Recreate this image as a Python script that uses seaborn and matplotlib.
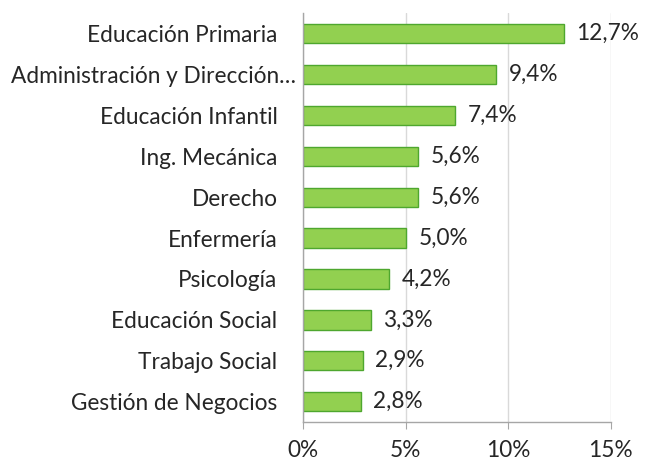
import seaborn as sns
import matplotlib.pyplot as plt
import pandas as pd
from matplotlib.ticker import FuncFormatter
from matplotlib.transforms import ScaledTranslation

careers = ['Educación Primaria', 'Administración y Dirección…',
           'Educación Infantil', 'Ing. Mecánica', 'Derecho', 'Enfermería',
           'Psicología', 'Educación Social', 'Trabajo Social',
           'Gestión de Negocios']
shares = [12.7, 9.4, 7.4, 5.6, 5.6, 5.0, 4.2, 3.3, 2.9, 2.8]
x_ticks = [0, 5, 10, 15]

sns.set_style('white')
plt.rcParams['font.family'] = ['Lato', 'DejaVu Sans']
fs = 16.3

df = pd.DataFrame({'career': careers, 'share': shares})

fig = plt.figure(figsize=(6.56, 4.66), dpi=100)
ax = fig.add_axes([0.462, 0.094, 0.469, 0.878])
sns.barplot(data=df, y='career', x='share', color='#92D050',
            edgecolor='#4EA72E', linewidth=1, width=0.47,
            saturation=1, ax=ax)

# Value labels in Spanish decimal format
for i, v in enumerate(shares):
    ax.text(v + 0.62, i, f'{v:.1f}%'.replace('.', ','), va='center',
            ha='left', fontsize=fs, color='#262626')

ax.set_xlim(0, 15)
ax.set_xticks(x_ticks)
ax.xaxis.set_major_formatter(FuncFormatter(lambda x, p: f'{x:.0f}%'))
ax.grid(axis='x', color='#D9D9D9', linewidth=1)
ax.set_axisbelow(True)
ax.set_xlabel('')
ax.set_ylabel('')

for side in ['top', 'right']:
    ax.spines[side].set_visible(False)
for side in ['left', 'bottom']:
    ax.spines[side].set_color('#A6A6A6')
    ax.spines[side].set_linewidth(1)

# Category ticks sit between the bars, like Excel
ax.set_yticks(range(len(careers)))
ax.set_yticklabels(careers, fontsize=fs, color='#262626')
ax.set_yticks([i + 0.5 for i in range(-1, len(careers))], minor=True)
ax.tick_params(axis='y', which='major', length=0, pad=18.5)
ax.tick_params(axis='y', which='minor', length=5, color='#A6A6A6', direction='out')
ax.tick_params(axis='x', length=5, color='#A6A6A6', labelsize=fs,
               labelcolor='#262626', pad=8, bottom=True)
ax.set_ylim(len(careers) - 0.5, -0.5)

# the truncated label runs a bit further right
lbl = ax.get_yticklabels()[1]
lbl.set_transform(lbl.get_transform() + ScaledTranslation(0.19, 0, fig.dpi_scale_trans))

plt.savefig('out.png', dpi=100)
